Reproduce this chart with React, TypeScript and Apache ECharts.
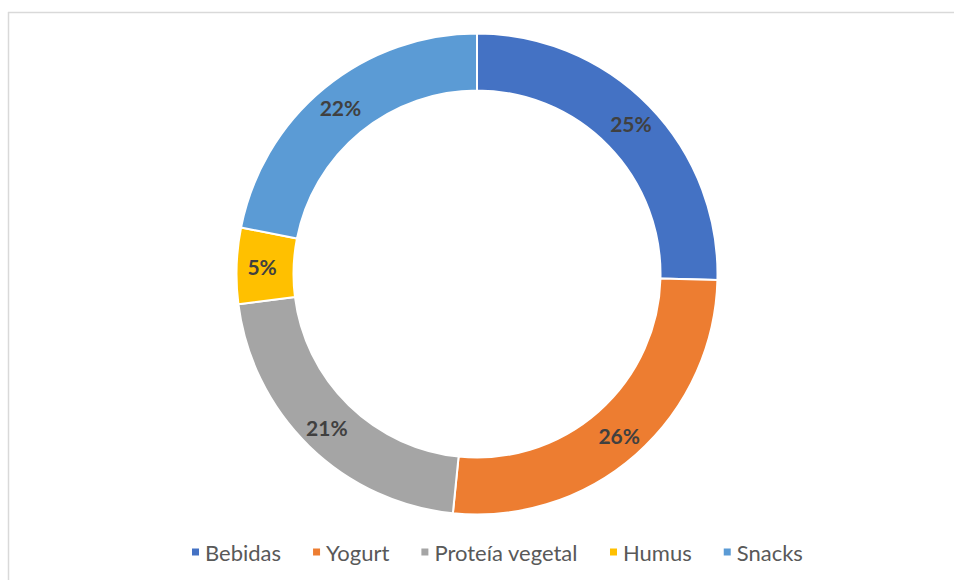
import React, { useEffect, useRef } from "react";
import * as echarts from "echarts";

const categories = ["Bebidas", "Yogurt", "Proteía vegetal", "Humus", "Snacks"];
const values = [25.4, 26.2, 21.4, 5.1, 21.9];
const colors = ["#4472C4", "#ED7D31", "#A5A5A5", "#FFC000", "#5B9BD5"];

export default function App() {
  const ref = useRef<HTMLDivElement>(null);
  useEffect(() => {
    const chart = echarts.init(ref.current!, null, { renderer: "svg" });
    const total = values.reduce((a, b) => a + b, 0);
    chart.setOption({
      animation: false,
      backgroundColor: "#ffffff",
      legend: {
        left: 185,
        top: 536,
        itemWidth: 9,
        itemHeight: 9,
        itemGap: 30,
        icon: "rect",
        textStyle: { color: "#595959", fontSize: 22, fontFamily: "Lato" },
        data: categories,
      },
      graphic: [
        { type: "line", shape: { x1: 8, y1: 12.5, x2: 954, y2: 12.5 }, style: { stroke: "#D9D9D9", lineWidth: 1.5 } },
        { type: "line", shape: { x1: 8.5, y1: 12, x2: 8.5, y2: 580 }, style: { stroke: "#D9D9D9", lineWidth: 1.5 } },
      ],
      series: [
        {
          type: "pie",
          center: [477, 274],
          radius: [183.5, 240.5],
          startAngle: 90,
          clockwise: true,
          itemStyle: { borderColor: "#ffffff", borderWidth: 2 },
          label: {
            position: "inside",
            formatter: (p: any) => Math.round((p.value / total) * 100) + "%",
            color: "#404040",
            fontSize: 21,
            fontWeight: "bold",
            fontFamily: "Lato",
          },
          labelLine: { show: false },
          emphasis: { disabled: true },
          data: categories.map((c, i) => ({ name: c, value: values[i], itemStyle: { color: colors[i] } })),
        },
      ],
    });
    return () => chart.dispose();
  }, []);
  return <div ref={ref} style={{ position: "fixed", left: 0, top: 0, width: 954, height: 580 }} />;
}
